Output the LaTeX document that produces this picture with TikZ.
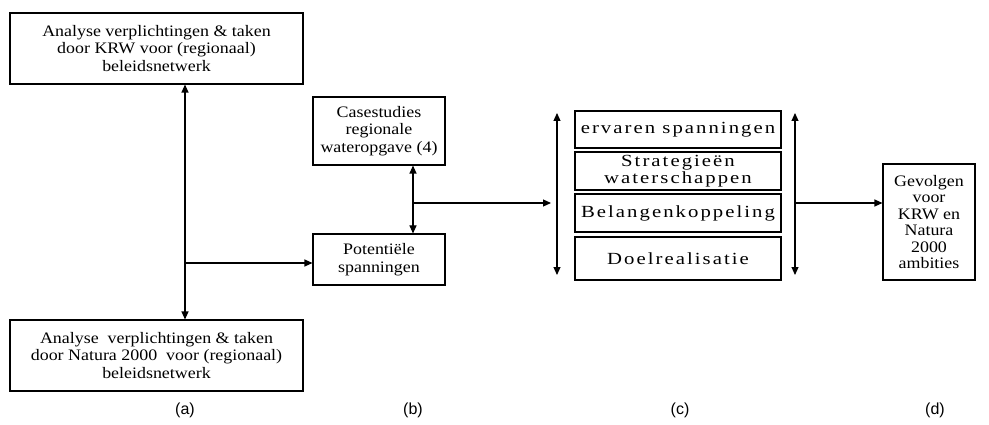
\documentclass[tikz,border=0pt]{standalone}
\usepackage{fontspec}
\setmainfont{Liberation Serif}[FakeStretch=1.12]
\newfontfamily\widefont{Liberation Serif}[FakeStretch=1.22,LetterSpace=12]
\newfontfamily\labelfont{Liberation Sans}
\usetikzlibrary{arrows.meta}
\tikzset{
  box/.style={draw, line width=1.1pt, align=center, inner sep=0pt,
    font=\fontsize{16}{17.5}\selectfont},
  cbox/.style={box, minimum width=206pt, font=\widefont\fontsize{17}{16.5}\selectfont},
  conn/.style={line width=1.1pt, -{Triangle[length=8pt,width=7pt]}},
  dconn/.style={line width=1.1pt, {Triangle[length=8pt,width=7pt]}-{Triangle[length=8pt,width=7pt]}},
  lab/.style={font=\labelfont\fontsize{16}{18}\selectfont}
}
\begin{document}
\begin{tikzpicture}[x=1pt,y=-1pt]
\useasboundingbox (0,0) rectangle (989,425);
% column a
\node[box, minimum width=293pt, minimum height=71pt] (A1) at (156.5,48.5)
  {Analyse verplichtingen \& taken\\door KRW voor (regionaal)\\beleidsnetwerk};
\node[box, minimum width=293pt, minimum height=71pt] (A2) at (156.5,355.5)
  {Analyse\ \ verplichtingen \& taken\\door Natura 2000\ \ voor (regionaal)\\beleidsnetwerk};
% column b
\node[box, minimum width=132pt, minimum height=68pt] (Case) at (379,131)
  {Casestudies\\regionale\\wateropgave (4)};
\node[box, minimum width=132pt, minimum height=51pt] (Pot) at (379,259.5)
  {Potentiële\\spanningen};
% column c
\node[cbox, minimum height=37pt] (c1) at (678,129.5) {ervaren spanningen};
\node[cbox, minimum height=38pt] (c2) at (678,171) {Strategieën\\waterschappen};
\node[cbox, minimum height=38pt] (c3) at (678,213) {Belangenkoppeling};
\node[cbox, minimum height=43pt] (c4) at (678,258.5) {Doelrealisatie};
% column d
\node[box, minimum width=92pt, minimum height=116pt, font=\fontsize{16}{16.5}\selectfont] (D) at (929,222)
  {Gevolgen\\voor\\KRW en\\Natura\\2000\\ambities};
% connectors
\coordinate (ja) at (185,263);
\draw[dconn] (ja |- A1.south) -- (ja |- A2.north);
\draw[conn] (ja) -- (ja -| Pot.west);
\coordinate (jb) at (413,203);
\draw[dconn] (jb |- Case.south) -- (jb |- Pot.north);
\coordinate (ctop) at (557,113);
\coordinate (cbot) at (557,275);
\draw[dconn] (ctop) -- (cbot);
\coordinate (cin) at (551,203);
\draw[conn] (jb) -- (cin);
\coordinate (rtop) at (795,113);
\coordinate (rbot) at (795,275);
\draw[dconn] (rtop) -- (rbot);
\coordinate (jr) at (795,203);
\draw[conn] (jr) -- (jr -| D.west);
% labels
\node[lab] (la) at (185,410) {(a)};
\node[lab] (lb) at (413,410) {(b)};
\node[lab] (lc) at (680,410) {(c)};
\node[lab] (ld) at (935,410) {(d)};
\end{tikzpicture}
\end{document}
